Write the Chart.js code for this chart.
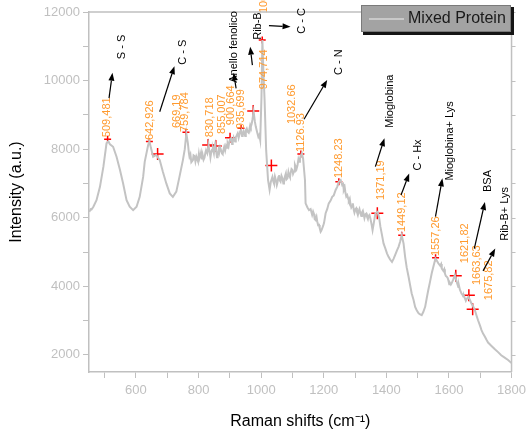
<!DOCTYPE html>
<html lang="it">
<head>
  <meta charset="UTF-8">
  <meta name="viewport" content="width=device-width, initial-scale=1.0">
  <title>Mixed Protein - Raman</title>
  <style>
    html, body { margin: 0; padding: 0; background: #fff; }
    canvas { display: block; }
  </style>
</head>
<body>
  <canvas id="graphic" width="531" height="432"></canvas>

  <!-- ChartJS -->
  <script src="https://cdn.jsdelivr.net/npm/chart.js"></script>

  <script>
    // Spettro (cm-1 / intensita')
    const ramanShift = [
      451, 455, 458, 464, 474, 485, 496, 506, 512, 517, 527, 538, 549, 559, 570, 580, 591, 602,
      612, 623, 628, 639, 643, 648, 655, 665, 676, 686, 697, 708, 718, 729, 739, 750, 756, 761,
      766, 769, 771, 774, 777, 782, 784, 787, 790, 793,
      796, 798, 801, 803, 806, 808, 811, 813, 816, 819,
      822, 824, 828, 832, 834, 836, 838, 840, 843, 846,
      849, 851, 853, 856, 859, 861, 864, 866, 869, 872,
      875, 877, 880, 882, 885, 888, 891, 893, 896, 898,
      901, 904, 907, 909, 912, 914, 917, 919, 922, 925,
      928, 930, 933, 936, 939, 941, 944, 946, 949, 951,
      954, 957, 960, 962, 965, 967, 970, 972, 976, 980,
      983, 987, 991, 994, 997, 1001,
      1004, 1007, 1011, 1016, 1022, 1027, 1031,
      1036, 1039, 1041, 1044, 1047, 1050, 1052, 1055, 1057, 1060,
      1062, 1065, 1068, 1071, 1073, 1076, 1079, 1081, 1084, 1087,
      1089, 1092, 1094, 1097, 1100, 1102, 1105, 1108, 1110, 1113,
      1116, 1119, 1121, 1124, 1126, 1130, 1134,
      1140, 1142, 1148, 1153, 1158, 1161, 1163, 1166, 1169, 1171,
      1174, 1177, 1179, 1182, 1185, 1187, 1190, 1192, 1195, 1198,
      1201, 1206, 1211, 1216, 1222, 1227, 1232, 1238, 1243, 1248,
      1254,
      1259, 1262, 1264, 1267, 1269, 1272, 1275, 1278, 1280, 1283,
      1285, 1288, 1291, 1293, 1296, 1298, 1301, 1304, 1306, 1309,
      1312, 1314, 1317, 1320, 1322, 1325, 1328, 1330, 1333, 1336,
      1338, 1341, 1343, 1346, 1349,
      1353, 1356, 1360, 1365, 1372, 1377, 1381, 1386, 1391, 1397,
      1402, 1407, 1412, 1418, 1423, 1428, 1434, 1439, 1444, 1449,
      1455, 1460, 1465, 1471, 1476, 1481, 1487, 1492, 1497, 1503,
      1508, 1513, 1518, 1524, 1529, 1534, 1540, 1545, 1551, 1557,
      1562, 1566,
      1572, 1575, 1577, 1580, 1582, 1585, 1587, 1590, 1593, 1596,
      1598, 1601, 1603, 1606, 1608, 1614, 1619, 1624, 1630, 1632,
      1635, 1638, 1640, 1643, 1646, 1648, 1651, 1654, 1656, 1662,
      1667, 1672, 1677, 1683, 1688, 1693, 1699, 1704, 1709, 1715,
      1720, 1725, 1736, 1746, 1757, 1767, 1778, 1789, 1800
    ];
    const intensity = [
      6170, 6250, 6240, 6320, 6510, 6900, 7490, 8170, 8230, 8140, 8070, 7780, 7390, 7000, 6510, 6320, 6220, 6320,
      6610, 7190, 7630, 8120, 8230, 8030, 7780, 7830, 7680, 7340, 7000, 6710, 6610, 6760, 7190, 7680, 8000, 8460,
      8170, 7900, 7780, 7850, 7620, 7680, 7820, 7800, 7640, 7780,
      7700, 7650, 7860, 7730, 7820, 7900, 7700, 7830, 7690, 7750,
      7900, 7970, 7880, 8120, 7960, 7900, 7760, 7880, 7980, 8000,
      7880, 8070, 8150, 7950, 7760, 7830, 7980, 7900, 8050, 7970,
      7870, 7850, 8000, 8070, 7960, 8100, 8040, 8170, 8090, 8200,
      8300, 8320, 8150, 8200, 8330, 8270, 8220, 8350, 8400, 8460,
      8330, 8400, 8520, 8560, 8380, 8430, 8520, 8460, 8380, 8550,
      8600, 8510, 8480, 8560, 8700, 8650, 8750, 8850, 9090, 8800,
      8650, 8500, 8360, 8420, 8270, 9500,
      11180, 10300, 9430, 7970, 7100, 6810, 7050,
      7190, 7050, 7000, 7200, 7100, 6950, 7020, 7180, 7240, 7080,
      7050, 7220, 7150, 7000, 7060, 7200, 7290, 7120, 7150, 7330,
      7240, 7180, 7300, 7420, 7390, 7280, 7350, 7540, 7490, 7420,
      7520, 7700, 7630, 7720, 7800, 7880, 7730,
      7100, 6420, 6300, 6220, 6250, 6150, 6080, 6180, 6100, 5960,
      5930, 6020, 5900, 5780, 5790, 5700, 5590, 5620, 5690, 5760,
      5850, 6130, 6250, 6420, 6500, 6610, 6650, 6810, 6900, 7050,
      7100,
      6950, 6980, 6810, 6880, 6750, 6620, 6660, 6560, 6500, 6560,
      6420, 6300, 6350, 6420, 6220, 6150, 6250, 6280, 6170, 6080,
      6200, 6250, 6130, 6050, 6150, 6200, 6080, 5990, 6100, 6120,
      6030, 5960, 6050, 6080, 5980,
      5800, 5640, 5850, 6130, 6170, 6000, 5740, 5500, 5250, 5100,
      4960, 4860, 4780, 4710, 4800, 4910, 5050, 5150, 5300, 5490,
      5250, 4860, 4550, 4280, 4030, 3790, 3600, 3400, 3300, 3210,
      3180, 3160, 3250, 3400, 3650, 3890, 4150, 4380, 4600, 4810,
      4740, 4670,
      4600, 4650, 4520, 4480, 4450, 4500, 4380, 4300, 4280, 4240,
      4180, 4060, 4100, 4050, 4080, 4200, 4330, 4150, 3980, 4020,
      3900, 3840, 3790, 3760, 3700, 3720, 3650, 3580, 3620, 3690,
      3600, 3500, 3420, 3300, 3150, 3010, 2860, 2720, 2620, 2530,
      2440, 2360, 2260, 2170, 2080, 1990, 1920, 1850, 1760
    ];

    // Picchi marcati
    const peakShift = [509.481, 642.926, 669.19, 759.784, 830.718, 855.007, 900.664, 935.699, 974.714, 1003.5,
      1032.66, 1126.93, 1248.23, 1371.19, 1449.12, 1557.26, 1621.82, 1663.63, 1675.82];
    const peakIntensity = [8290, 8220, 7860, 8490, 8120, 8090, 8330, 8610, 9110, 11180,
      7520, 7860, 7050, 6130, 5490, 4830, 4310, 3740, 3330];
    const peakText = ['509,481', '642,926', '669,19', '759,784', '830,718', '855,007', '900,664', '935,699', '974,714', '1003,5',
      '1032.66', '1126.93', '1248.23', '1371,19', '1449,12', '1557,26', '1621,82', '1663,63', '1675,82'];

    // Assegnazioni delle bande
    const bandText = ['S - S', 'C - S', 'Anello fenolico', 'Rib-B', 'C - C', 'C - N', 'Mioglobina', 'C - Hx',
      'Mioglobina+ Lys', 'BSA', 'Rib-B+ Lys'];

    // Tick
    const xTicks = [500, 600, 700, 800, 900, 1000, 1100, 1200, 1300, 1400, 1500, 1600, 1700, 1800];
    const yTicks = [2000, 3000, 4000, 5000, 6000, 7000, 8000, 9000, 10000, 11000, 12000];

    // posizione (in unita' degli assi) delle etichette e delle frecce
    const peakLabelAt = [[509, 8350], [646, 8265], [730, 8615], [756, 8500], [837, 8350], [875, 8440], [904, 8700],
      [935, 8590], [1010, 9750], [1010, 11970], [1098, 8730], [1126, 7915], [1248, 7155], [1382, 6515], [1449, 5580],
      [1557, 4880], [1651, 4675], [1688, 4035], [1727, 3595]];
    const bandAt = [[555, 10980], [749, 10830], [914, 10980], [990, 11590], [1130, 11740], [1248, 10540],
      [1413, 9400], [1502, 7830], [1604, 8240], [1725, 7070], [1779, 6110]];
    const bandArrows = [[514, 9490, 525, 10230], [676, 9090, 723, 10420], [920, 9770, 912, 10230],
      [972, 10450, 965, 10990], [1025, 11600, 1094, 11570], [1137, 8870, 1211, 10020], [1365, 7490, 1394, 8320],
      [1447, 6660, 1473, 7290], [1557, 6030, 1579, 7150], [1681, 5100, 1715, 6460], [1709, 4450, 1748, 5100]];
    const crossRadius = [3.5, 3.5, 6, 3.5, 6, 6, 5, 3.5, 6, 3.5, 6, 3.5, 3.5, 6, 3.5, 3.5, 6, 6, 6];

    const FONT = 'Arial, "Liberation Sans", sans-serif';
    const GRIGIO = '#c0c0c0';

    document.addEventListener("DOMContentLoaded", () => {
      const lienzo = document.getElementById("graphic");

      function freccia(ctx, x1, y1, x2, y2) {
        const ang = Math.atan2(y2 - y1, x2 - x1);
        const len = 8, half = 3;
        const bx = x2 - Math.cos(ang) * len, by = y2 - Math.sin(ang) * len;
        ctx.beginPath();
        ctx.moveTo(x1, y1);
        ctx.lineTo(bx, by);
        ctx.stroke();
        ctx.beginPath();
        ctx.moveTo(x2, y2);
        ctx.lineTo(bx - Math.sin(ang) * half, by + Math.cos(ang) * half);
        ctx.lineTo(bx + Math.sin(ang) * half, by - Math.cos(ang) * half);
        ctx.closePath();
        ctx.fill();
      }

      const decorazioni = {
        id: 'decorazioni',
        // etichette arancioni sotto le croci
        afterDatasetDraw(chart, args) {
          if (args.index !== 0) return;
          const {ctx, scales: {x, y}} = chart;
          ctx.save();
          ctx.fillStyle = '#ff9a2e';
          ctx.font = '11px ' + FONT;
          ctx.textAlign = 'left';
          ctx.textBaseline = 'middle';
          peakText.forEach((t, i) => {
            ctx.save();
            ctx.translate(x.getPixelForValue(peakLabelAt[i][0]), y.getPixelForValue(peakLabelAt[i][1]));
            ctx.rotate(-Math.PI / 2);
            ctx.fillText(t, 0, 0);
            ctx.restore();
          });
          ctx.restore();
        },
        afterDraw(chart) {
          const {ctx, chartArea: a, scales: {x, y}} = chart;
          ctx.save();

          // bordo superiore e destro
          ctx.strokeStyle = GRIGIO;
          ctx.lineWidth = 1.5;
          ctx.beginPath();
          ctx.moveTo(a.left, a.top);
          ctx.lineTo(a.right, a.top);
          ctx.lineTo(a.right, a.bottom);
          ctx.stroke();
          ctx.lineWidth = 1;
          yTicks.forEach(v => {
            const py = Math.round(y.getPixelForValue(v)) + 0.5;
            ctx.beginPath();
            ctx.moveTo(a.right, py);
            ctx.lineTo(a.right + 4, py);
            ctx.stroke();
          });

          // frecce e assegnazioni
          ctx.strokeStyle = '#000';
          ctx.fillStyle = '#000';
          ctx.lineWidth = 1.2;
          bandArrows.forEach(f => {
            freccia(ctx, x.getPixelForValue(f[0]), y.getPixelForValue(f[1]),
              x.getPixelForValue(f[2]), y.getPixelForValue(f[3]));
          });
          ctx.font = '11px ' + FONT;
          ctx.textAlign = 'center';
          ctx.textBaseline = 'middle';
          bandText.forEach((t, i) => {
            ctx.save();
            ctx.translate(x.getPixelForValue(bandAt[i][0]), y.getPixelForValue(bandAt[i][1]));
            ctx.rotate(-Math.PI / 2);
            ctx.fillText(t, 0, 0);
            ctx.restore();
          });

          // legenda
          ctx.fillStyle = '#151515';
          ctx.fillRect(363, 7, 151, 28);
          ctx.fillStyle = '#a3a3a3';
          ctx.fillRect(361, 5, 150, 27);
          ctx.strokeStyle = '#7a7a7a';
          ctx.lineWidth = 1;
          ctx.strokeRect(361.5, 5.5, 149, 26);
          ctx.strokeStyle = '#d6d6d6';
          ctx.lineWidth = 1.5;
          ctx.beginPath();
          ctx.moveTo(369, 19);
          ctx.lineTo(404, 19);
          ctx.stroke();
          ctx.fillStyle = '#1a1a1a';
          ctx.font = '16px ' + FONT;
          ctx.textAlign = 'left';
          ctx.fillText(chart.data.datasets[0].label, 408, 19);

          ctx.restore();
        }
      };

      new Chart(lienzo, {
        type: 'line',
        data: {
          datasets: [
            {
              label: 'Mixed Protein',
              data: ramanShift.map((v, i) => ({x: v, y: intensity[i]})),
              borderColor: '#c3c3c3',
              borderWidth: 2,
              pointRadius: 0,
              tension: 0
            },
            {
              type: 'scatter',
              label: 'picchi',
              data: peakShift.map((v, i) => ({x: v, y: peakIntensity[i]})),
              pointStyle: 'cross',
              pointRadius: crossRadius,
              borderColor: '#ff0000',
              backgroundColor: '#ff0000',
              borderWidth: 1.5
            }
          ]
        },
        options: {
          responsive: false,
          animation: false,
          layout: { padding: { top: 12, right: 17, left: 0, bottom: 0 } },
          plugins: {
            legend: { display: false },
            tooltip: { enabled: false }
          },
          scales: {
            x: {
              type: 'linear',
              min: 450,
              max: 1800,
              afterBuildTicks: s => { s.ticks = xTicks.map(v => ({value: v})); },
              afterFit: s => { s.height = 60; },
              ticks: {
                autoSkip: false,
                maxRotation: 0,
                padding: 5,
                color: GRIGIO,
                font: { family: FONT, size: 13 },
                callback: v => (v % 200 === 0 ? v : '')
              },
              grid: { drawOnChartArea: false, tickLength: 6, color: GRIGIO },
              border: { color: GRIGIO, width: 1.5 },
              title: {
                display: true,
                text: 'Raman shifts (cm⁻¹)',
                color: '#000',
                font: { family: FONT, size: 16 },
                padding: { top: 0, bottom: 1 }
              }
            },
            y: {
              min: 1500,
              max: 12000,
              afterBuildTicks: s => { s.ticks = yTicks.map(v => ({value: v})); },
              afterFit: s => { s.width = 89; },
              ticks: {
                autoSkip: false,
                padding: 3,
                color: GRIGIO,
                font: { family: FONT, size: 13 },
                callback: v => (v % 2000 === 0 ? v : '')
              },
              grid: { drawOnChartArea: false, tickLength: 6, color: GRIGIO },
              border: { color: GRIGIO, width: 1.5 },
              title: {
                display: true,
                text: 'Intensity (a.u.)',
                color: '#000',
                font: { family: FONT, size: 16 },
                padding: { top: 7, bottom: 0 }
              }
            }
          }
        },
        plugins: [decorazioni]
      });
    });
  </script>
</body>
</html>
